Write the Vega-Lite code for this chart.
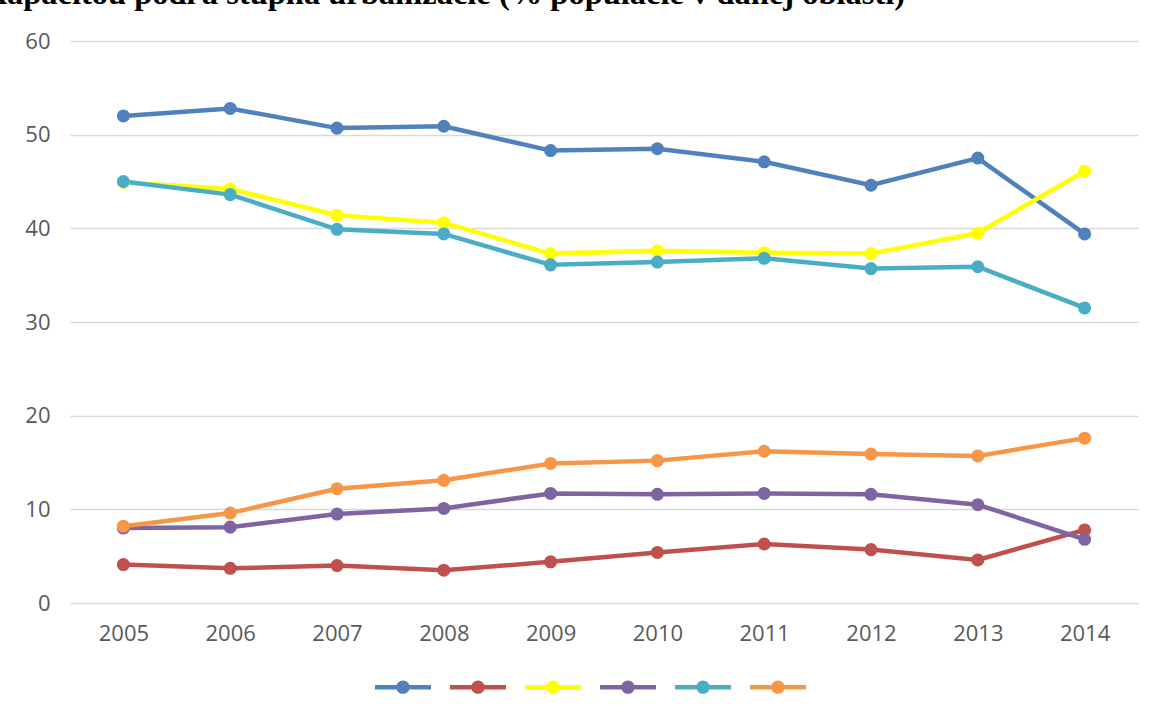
{
  "$schema": "https://vega.github.io/schema/vega-lite/v6.json",
  "autosize": "none",
  "width": 1068,
  "height": 562,
  "padding": {"left": 70, "top": 41, "right": 22, "bottom": 114},
  "background": "white",
  "title": {
    "text": "kapacitou podľa stupňa urbanizácie (% populácie v danej oblasti)",
    "font": "Liberation Serif",
    "fontSize": 32.5,
    "fontWeight": "bold",
    "color": "#000000",
    "anchor": "start",
    "frame": "bounds",
    "baseline": "alphabetic",
    "offset": 0,
    "dx": -36,
    "dy": 6
  },
  "data": {
    "values": [
      {"rok": "2005", "seria": "S1", "hodnota": 52.0},
      {"rok": "2006", "seria": "S1", "hodnota": 52.8},
      {"rok": "2007", "seria": "S1", "hodnota": 50.7},
      {"rok": "2008", "seria": "S1", "hodnota": 50.9},
      {"rok": "2009", "seria": "S1", "hodnota": 48.3},
      {"rok": "2010", "seria": "S1", "hodnota": 48.5},
      {"rok": "2011", "seria": "S1", "hodnota": 47.1},
      {"rok": "2012", "seria": "S1", "hodnota": 44.6},
      {"rok": "2013", "seria": "S1", "hodnota": 47.5},
      {"rok": "2014", "seria": "S1", "hodnota": 39.4},
      {"rok": "2005", "seria": "S2", "hodnota": 4.1},
      {"rok": "2006", "seria": "S2", "hodnota": 3.7},
      {"rok": "2007", "seria": "S2", "hodnota": 4.0},
      {"rok": "2008", "seria": "S2", "hodnota": 3.5},
      {"rok": "2009", "seria": "S2", "hodnota": 4.4},
      {"rok": "2010", "seria": "S2", "hodnota": 5.4},
      {"rok": "2011", "seria": "S2", "hodnota": 6.3},
      {"rok": "2012", "seria": "S2", "hodnota": 5.7},
      {"rok": "2013", "seria": "S2", "hodnota": 4.6},
      {"rok": "2014", "seria": "S2", "hodnota": 7.8},
      {"rok": "2005", "seria": "S3", "hodnota": 44.9},
      {"rok": "2006", "seria": "S3", "hodnota": 44.2},
      {"rok": "2007", "seria": "S3", "hodnota": 41.4},
      {"rok": "2008", "seria": "S3", "hodnota": 40.6},
      {"rok": "2009", "seria": "S3", "hodnota": 37.3},
      {"rok": "2010", "seria": "S3", "hodnota": 37.6},
      {"rok": "2011", "seria": "S3", "hodnota": 37.4},
      {"rok": "2012", "seria": "S3", "hodnota": 37.3},
      {"rok": "2013", "seria": "S3", "hodnota": 39.5},
      {"rok": "2014", "seria": "S3", "hodnota": 46.1},
      {"rok": "2005", "seria": "S4", "hodnota": 8.0},
      {"rok": "2006", "seria": "S4", "hodnota": 8.1},
      {"rok": "2007", "seria": "S4", "hodnota": 9.5},
      {"rok": "2008", "seria": "S4", "hodnota": 10.1},
      {"rok": "2009", "seria": "S4", "hodnota": 11.7},
      {"rok": "2010", "seria": "S4", "hodnota": 11.6},
      {"rok": "2011", "seria": "S4", "hodnota": 11.7},
      {"rok": "2012", "seria": "S4", "hodnota": 11.6},
      {"rok": "2013", "seria": "S4", "hodnota": 10.5},
      {"rok": "2014", "seria": "S4", "hodnota": 6.8},
      {"rok": "2005", "seria": "S5", "hodnota": 45.0},
      {"rok": "2006", "seria": "S5", "hodnota": 43.6},
      {"rok": "2007", "seria": "S5", "hodnota": 39.9},
      {"rok": "2008", "seria": "S5", "hodnota": 39.4},
      {"rok": "2009", "seria": "S5", "hodnota": 36.1},
      {"rok": "2010", "seria": "S5", "hodnota": 36.4},
      {"rok": "2011", "seria": "S5", "hodnota": 36.8},
      {"rok": "2012", "seria": "S5", "hodnota": 35.7},
      {"rok": "2013", "seria": "S5", "hodnota": 35.9},
      {"rok": "2014", "seria": "S5", "hodnota": 31.5},
      {"rok": "2005", "seria": "S6", "hodnota": 8.2},
      {"rok": "2006", "seria": "S6", "hodnota": 9.6},
      {"rok": "2007", "seria": "S6", "hodnota": 12.2},
      {"rok": "2008", "seria": "S6", "hodnota": 13.1},
      {"rok": "2009", "seria": "S6", "hodnota": 14.9},
      {"rok": "2010", "seria": "S6", "hodnota": 15.2},
      {"rok": "2011", "seria": "S6", "hodnota": 16.2},
      {"rok": "2012", "seria": "S6", "hodnota": 15.9},
      {"rok": "2013", "seria": "S6", "hodnota": 15.7},
      {"rok": "2014", "seria": "S6", "hodnota": 17.6}
    ]
  },
  "encoding": {
    "x": {
      "field": "rok",
      "type": "ordinal",
      "scale": {"padding": 0.5},
      "axis": {
        "title": null,
        "labelAngle": 0,
        "domain": false,
        "ticks": false,
        "grid": false,
        "labelFont": "Open Sans",
        "labelFontSize": 22,
        "labelColor": "#595959",
        "labelPadding": 20
      }
    },
    "y": {
      "field": "hodnota",
      "type": "quantitative",
      "scale": {"domain": [0, 60], "nice": false},
      "axis": {
        "title": null,
        "values": [0, 10, 20, 30, 40, 50, 60],
        "domain": false,
        "ticks": false,
        "grid": true,
        "gridColor": "#d9d9d9",
        "gridWidth": 1.5,
        "labelFont": "Open Sans",
        "labelFontSize": 22,
        "labelColor": "#595959",
        "labelPadding": 20
      }
    },
    "color": {
      "field": "seria",
      "type": "nominal",
      "scale": {
        "domain": ["S1", "S2", "S3", "S4", "S5", "S6"],
        "range": ["#4F81BD", "#C0504D", "#FFFF00", "#8064A2", "#4BACC6", "#F79646"]
      },
      "legend": {
        "title": null,
        "orient": "none",
        "legendX": 305,
        "legendY": 618,
        "direction": "horizontal",
        "symbolType": "M-1,-0.08L1,-0.08L1,0.08L-1,0.08Z M-0.24,0A0.24,0.24,0,0,1,0.24,0A0.24,0.24,0,0,1,-0.24,0Z",
        "symbolSize": 3136,
        "symbolStrokeWidth": 0,
        "labelExpr": "''",
        "labelOffset": 0,
        "columnPadding": 19,
        "encode": {
          "symbols": {
            "update": {
              "fill": {"scale": "color", "field": "value"},
              "fillOpacity": {"value": 1},
              "strokeWidth": {"value": 0}
            }
          }
        }
      }
    }
  },
  "layer": [
    {"mark": {"type": "line", "strokeWidth": 4.5, "strokeCap": "round"}},
    {"mark": {"type": "point", "filled": true, "size": 170, "opacity": 1}}
  ],
  "config": {
    "view": {"stroke": null}
  }
}
